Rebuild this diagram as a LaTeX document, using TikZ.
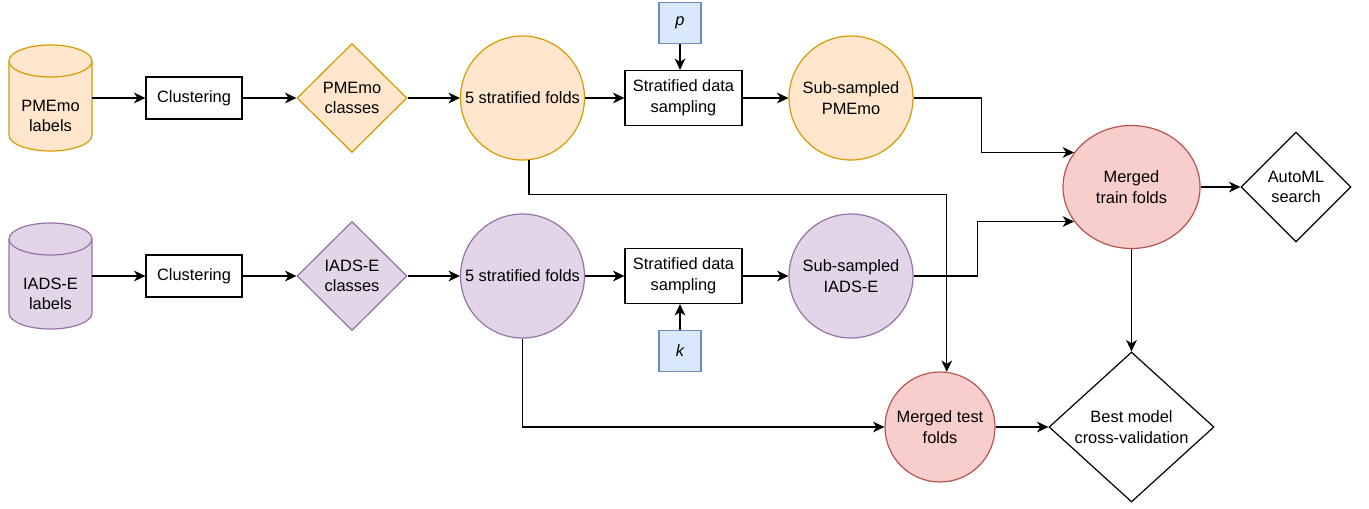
\documentclass[tikz,border=0pt]{standalone}
\usepackage{fontspec}
\setmainfont{Liberation Sans}
\usetikzlibrary{shapes.geometric,arrows.meta}
\definecolor{orF}{HTML}{FFE6CC}\definecolor{orS}{HTML}{D79B00}
\definecolor{puF}{HTML}{E1D5E7}\definecolor{puS}{HTML}{9673A6}
\definecolor{reF}{HTML}{F8CECC}\definecolor{reS}{HTML}{B85450}
\definecolor{blF}{HTML}{DAE8FC}\definecolor{blS}{HTML}{6C8EBF}
\tikzset{
  every node/.style={font=\fontsize{12.3pt}{15.5pt}\selectfont, align=center, inner sep=0pt},
  arr/.style={draw=black, line width=1pt, -{Stealth[length=8.5pt,width=8pt,inset=2.5pt]}},
  procbox/.style={draw=black, line width=0.9pt, fill=white, rectangle, minimum width=72pt, minimum height=31.5pt},
  sampbox/.style={draw=black, line width=0.9pt, fill=white, rectangle, minimum width=87.75pt, minimum height=41.25pt},
  parbox/.style={draw=blS, line width=0.9pt, fill=blF, rectangle, minimum width=31.5pt, minimum height=30.75pt, font=\fontsize{12.3pt}{15.5pt}\selectfont\itshape},
  bigcirc/.style={circle, line width=0.9pt, minimum size=93pt},
  orn/.style={draw=orS, fill=orF},
  pun/.style={draw=puS, fill=puF},
  ren/.style={draw=reS, fill=reF},
  cls/.style={diamond, line width=0.9pt, minimum width=82.5pt, minimum height=81.75pt},
  cylbox/.style={rectangle, minimum width=62.25pt, minimum height=79.5pt},
}
\begin{document}
\begin{tikzpicture}[x=0.75pt, y=-0.75pt]
\path[use as bounding box] (0,0) rectangle (1369,508);

% cylinders
\foreach \cy/\fc/\sc in {98/orF/orS, 276/puF/puS}{
  \filldraw[fill=\fc, draw=\sc, line width=0.9pt]
    (9,\cy-37) -- (9,\cy+37) arc[start angle=180,end angle=360,x radius=31.125pt,y radius=12pt]
    -- (92,\cy-37) arc[start angle=0,end angle=180,x radius=31.125pt,y radius=12pt] -- cycle;
  \draw[draw=\sc, line width=0.9pt] (9,\cy-37) arc[start angle=180,end angle=360,x radius=31.125pt,y radius=12pt];
}
\node[cylbox] (pm) at (50.5,98) {};
\node (pmt) at (50.5,116) {PMEmo\\labels};
\node[cylbox] (ia) at (50.5,276) {};
\node (iat) at (50.5,294) {IADS-E\\labels};

% row 1
\node[procbox] (clu1) at (194,98) {Clustering};
\node[cls, orn] (cls1) at (352,98) {PMEmo\\classes};
\node[bigcirc, orn] (fold1) at (522.5,98) {5 stratified folds};
\node[sampbox] (sds1) at (683.5,98) {Stratified data\\sampling};
\node[parbox] (p) at (680,23) {p};
\node[bigcirc, orn] (sub1) at (851,98) {Sub-sampled\\PMEmo};

% row 2
\node[procbox] (clu2) at (194,276) {Clustering};
\node[cls, pun] (cls2) at (352,276) {IADS-E\\classes};
\node[bigcirc, pun] (fold2) at (522.5,276) {5 stratified folds};
\node[sampbox] (sds2) at (683.5,276) {Stratified data\\sampling};
\node[parbox] (k) at (680,351) {k};
\node[bigcirc, pun] (sub2) at (851,276) {Sub-sampled\\IADS-E};

% right part
\node[ellipse, ren, line width=0.9pt, minimum width=102.75pt, minimum height=92.25pt] (mtrain) at (1131.5,187) {Merged\\train folds};
\node[diamond, draw=black, line width=0.9pt, fill=white, minimum width=82.5pt, minimum height=82.5pt] (auto) at (1296,187) {AutoML\\search};
\node[circle, ren, line width=0.9pt, minimum size=82.5pt] (mtest) at (940,427) {Merged test\\folds};
\node[diamond, aspect=1.1, draw=black, line width=0.9pt, fill=white, minimum width=123.75pt, minimum height=112.5pt] (best) at (1131.5,427) {Best model\\cross-validation};

% connectors
\draw[arr] (pm.east) -- (clu1.west);
\draw[arr] (clu1.east) -- (cls1.west);
\draw[arr] (cls1.east) -- (fold1.west);
\draw[arr] (fold1.east) -- (sds1.west);
\draw[arr] (sds1.east) -- (sub1.west);
\draw[arr] (p.south) -- (sds1.north -| p.south);

\draw[arr] (ia.east) -- (clu2.west);
\draw[arr] (clu2.east) -- (cls2.west);
\draw[arr] (cls2.east) -- (fold2.west);
\draw[arr] (fold2.east) -- (sds2.west);
\draw[arr] (sds2.east) -- (sub2.west);
\draw[arr] (k.north) -- (sds2.south -| k.north);

\draw[arr] (sub1.east) -- ++(68,0) |- (mtrain.149);
\draw[arr] (sub2.east) -- ++(64,0) |- (mtrain.211);
\draw[arr] (fold1.276) -- ++(0,34.5) -| (mtest.83);
\draw[arr] (fold2.south) |- (mtest.west);
\draw[arr] (mtrain.east) -- (auto.west);
\draw[arr] (mtrain.south) -- (best.north);
\draw[arr] (mtest.east) -- (best.west);
\end{tikzpicture}
\end{document}
